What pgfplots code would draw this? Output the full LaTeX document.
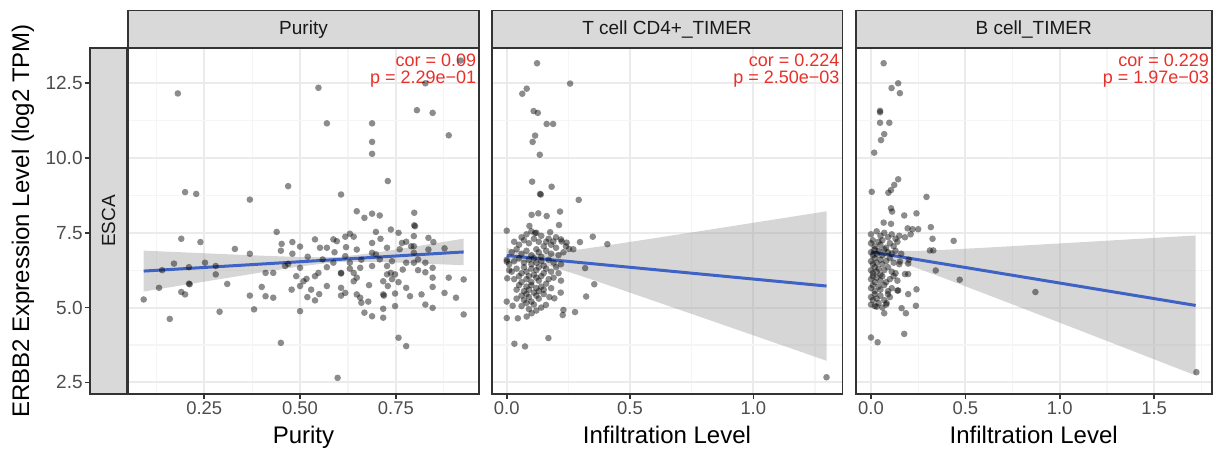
\documentclass[border=0pt]{standalone}
\usepackage{fontspec}
\setmainfont{Liberation Sans}
\usepackage{pgfplots}
\pgfplotsset{compat=1.18}
\definecolor{gridmaj}{HTML}{EBEBEB}
\definecolor{gridmin}{HTML}{F5F5F5}
\definecolor{bord}{HTML}{333333}
\definecolor{stripc}{HTML}{D9D9D9}
\definecolor{ticklab}{HTML}{4D4D4D}
\definecolor{corred}{HTML}{E8302A}
\definecolor{smoothc}{HTML}{3F63C4}
\definecolor{bandc}{HTML}{999999}

\pgfplotsset{
  panel/.style={
    scale only axis, height=173pt, anchor=south west,
    ymin=2.11, ymax=13.68,
    ytick={2.5,5,7.5,10,12.5}, yticklabels={},
    minor ytick={3.75,6.25,8.75,11.25},
    grid=both,
    major grid style={gridmaj, line width=1pt},
    minor grid style={gridmin, line width=0.6pt},
    axis line style={bord, line width=0.8pt},
    tick align=outside, xtick pos=bottom, ytick pos=left,
    major tick length=2.5pt, minor tick length=0pt,
    ytick style={draw=none},
    xtick style={bord, line width=0.8pt},
    xticklabel style={font=\fontsize{9.2}{10}\selectfont, text=ticklab, inner sep=1pt},
    xlabel style={font=\fontsize{12}{13}\selectfont, at={(rel axis cs:0.5,0)}, anchor=base, yshift=-25pt},
    clip=false,
  },
  pts/.style={only marks, mark=*, mark size=1.65pt, mark options={draw opacity=0, fill=black, fill opacity=0.45}},
  fit/.style={smoothc, line width=1.5pt, no marks},
  band/.style={draw=none, fill=bandc, fill opacity=0.4},
}
\newcommand{\strip}[1]{%
  \draw[bord, line width=0.8pt, fill=stripc] (rel axis cs:0,1) rectangle ([yshift=18.65pt]rel axis cs:1,1);
  \node[font=\fontsize{9.5}{10}\selectfont, text=black!90] at ([yshift=9.3pt]rel axis cs:0.5,1) {#1};
}
\newcommand{\cortext}[2]{%
  \node[anchor=north east, align=right, text=corred, font=\fontsize{9}{8.6}\selectfont, inner sep=0pt]
    at ([xshift=-1.2pt,yshift=-2.6pt]rel axis cs:1,1) {cor = #1\\p = #2};
}

\begin{document}
\begin{tikzpicture}

% ---- row strip with y axis ----
\begin{axis}[
  scale only axis, width=18.5pt, height=173pt, at={(45pt,29.5pt)}, anchor=south west,
  xmin=0, xmax=1, ymin=2.11, ymax=13.68, xtick=\empty,
  ytick={2.5,5,7.5,10,12.5}, yticklabels={2.5,5.0,7.5,10.0,12.5},
  tick align=outside, ytick pos=left, major tick length=2.5pt,
  ytick style={bord, line width=0.8pt},
  yticklabel style={font=\fontsize{9.5}{10}\selectfont, text=ticklab, inner sep=1pt},
  axis background/.style={fill=stripc},
  axis line style={bord, line width=0.8pt},
  ylabel={ERBB2 Expression Level (log2 TPM)},
  ylabel style={font=\fontsize{12}{13}\selectfont, at={(rel axis cs:0,0.5)}, anchor=center, yshift=33.5pt},
  clip=false,
]
\node[rotate=90, font=\fontsize{9.5}{10}\selectfont, text=black!90] at (rel axis cs:0.5,0.5) {ESCA};
\end{axis}

% ---- Purity ----
\begin{axis}[panel, width=175.5pt, at={(64pt,29.5pt)},
  xmin=0.051, xmax=0.967,
  xtick={0.25,0.5,0.75}, xticklabels={0.25,0.50,0.75},
  minor xtick={0.125,0.375,0.625,0.875},
  xlabel={Purity}]
\addplot[pts] coordinates {
(0.919,13.26) (0.181,12.16) (0.548,12.35) (0.827,12.5) (0.57,11.16) (0.805,11.6) (0.846,11.51)
(0.888,10.76) (0.688,11.16) (0.688,10.54) (0.688,10.14) (0.729,9.23) (0.469,9.06) (0.20,8.86)
(0.229,8.80) (0.369,8.61) (0.607,8.78) (0.648,8.22) (0.668,8.0) (0.688,8.14) (0.708,8.08)
(0.798,8.17) (0.798,7.75) (0.800,7.72) (0.439,7.53) (0.698,7.53) (0.737,7.61) (0.757,7.5) (0.19,7.3)
(0.24,7.19) (0.539,7.28) (0.57,7.0) (0.587,7.28) (0.596,7.22) (0.618,7.37) (0.63,7.47)
(0.64,7.37) (0.452,7.13) (0.48,7.19) (0.5,7.04) (0.33,6.96) (0.369,6.8) (0.48,6.8) (0.552,7.0)
(0.648,6.94) (0.688,7.16) (0.727,7.0) (0.766,7.16) (0.777,7.2) (0.835,7.33) (0.848,7.19)
(0.877,6.98) (0.797,7.39) (0.797,7.05) (0.171,6.47) (0.14,6.25) (0.21,6.35) (0.252,6.5)
(0.28,6.39) (0.28,6.11) (0.31,5.79) (0.21,5.8) (0.212,5.78) (0.132,5.66) (0.19,5.52) (0.20,5.44)
(0.092,5.27) (0.16,4.62) (0.29,4.86) (0.369,5.40) (0.38,4.94) (0.40,5.69) (0.41,5.38)
(0.41,6.16) (0.43,6.16) (0.43,5.33) (0.45,3.82) (0.461,6.39) (0.469,6.46) (0.478,5.6)
(0.49,6.05) (0.5,4.88) (0.5,5.72) (0.509,5.88) (0.517,5.96) (0.5,6.33) (0.519,5.35) (0.529,5.6)
(0.539,5.24) (0.539,6.05) (0.548,6.16) (0.559,6.61) (0.57,5.72) (0.57,6.35) (0.587,6.5)
(0.607,6.16) (0.607,6.14) (0.607,5.66) (0.607,5.4) (0.618,5.49) (0.598,2.65) (0.618,6.72) (0.63,6.5)
(0.64,6.16) (0.64,5.88) (0.648,6.0) (0.648,5.44) (0.657,6.33) (0.657,5.33) (0.66,5.16)
(0.668,4.83) (0.678,5.2) (0.688,4.71) (0.688,6.39) (0.688,6.83) (0.698,6.78) (0.708,6.61)
(0.717,5.88) (0.717,5.44) (0.719,5.40) (0.717,4.96) (0.717,4.66) (0.727,6.39) (0.727,6.11) (0.729,5.72)
(0.737,6.16) (0.748,6.11) (0.748,5.47) (0.748,5.05) (0.757,5.85) (0.757,3.99) (0.768,6.27)
(0.777,6.5) (0.777,5.66) (0.777,3.71) (0.787,5.38) (0.797,6.83) (0.797,6.5) (0.808,6.25)
(0.808,6.61) (0.817,5.44) (0.827,6.5) (0.827,6.18) (0.827,5.1) (0.835,6.94) (0.846,6.33)
(0.846,6.0) (0.846,5.69) (0.846,4.99) (0.877,5.49) (0.888,6.0) (0.907,5.33) (0.927,5.94)
(0.927,4.77) (0.62,7.02) (0.66,6.60) (0.59,6.85) (0.74,6.55) (0.76,6.95) (0.52,6.70)
(0.45,6.90) (0.71,7.30) (0.63,6.30) (0.68,5.75) (0.55,5.45) (0.74,5.95) (0.79,7.05)
};
\addplot[band] coordinates {
(0.092,6.904) (0.2,6.844) (0.3,6.788) (0.4,6.735) (0.5,6.689) (0.6,6.689) (0.7,6.842) (0.8,7.041) (0.927,7.305)
(0.927,6.415) (0.8,6.483) (0.7,6.530) (0.6,6.529) (0.5,6.377) (0.4,6.177) (0.3,5.970) (0.2,5.762) (0.092,5.536)
} -- cycle;
\addplot[fit] coordinates {(0.092,6.22) (0.927,6.86)};
\strip{Purity}
\cortext{0.09}{2.29e−01}
\end{axis}

% ---- T cell CD4+ ----
\begin{axis}[panel, width=175.3pt, at={(245.85pt,29.5pt)},
  xmin=-0.061, xmax=1.361,
  xtick={0,0.5,1}, xticklabels={0.0,0.5,1.0},
  minor xtick={0.25,0.75,1.25},
  xlabel={Infiltration Level}]
\addplot[pts] coordinates {
(0.123,13.17) (0.257,12.49) (0.081,12.32) (0.063,12.15) (0.109,11.57) (0.126,11.51)
(0.162,11.14) (0.188,11.14) (0.115,10.75) (0.105,10.54) (0.134,10.11) (0.103,9.21)
(0.182,9.04) (0.135,8.80) (0.138,8.78) (0.292,8.6) (0.216,8.21) (0.128,8.15) (0.101,8.10)
(0.162,8.06) (0.092,7.73) (0.212,7.76) (0.0,7.57) (0.115,7.49) (0.176,7.52) (0.349,7.37)
(0.408,7.12) (0.297,7.19) (0.253,6.96) (0.223,7.21) (0.243,7.17) (0.189,7.21)
(0.318,6.32) (0.355,5.78) (0.322,5.37) (0.277,4.85) (0.230,4.92) (0.227,4.75) (0.219,5.5)
(0.193,5.31) (0.173,5.35) (0.159,5.09) (0.0,5.2) (0.024,5.06) (0.0,4.65) (0.045,4.64)
(0.081,4.70) (0.101,4.81) (0.169,3.98) (0.031,3.79) (0.074,3.70) (0.0,6.54) (0.002,5.98)
(0.01,6.25) (1.297,2.67)
(0.08,7.45) (0.1,7.55) (0.12,7.5) (0.14,7.4) (0.06,7.35) (0.17,7.3) (0.2,7.35) (0.22,7.28)
(0.03,7.2) (0.05,7.1) (0.07,7.25) (0.09,7.15) (0.11,7.3) (0.13,7.2) (0.15,7.05) (0.16,7.2) (0.18,7.1) (0.2,7.0) (0.24,7.05) (0.27,6.95)
(0.02,6.85) (0.04,6.95) (0.06,6.8) (0.08,6.9) (0.1,6.75) (0.12,6.95) (0.13,6.85) (0.14,6.7) (0.16,6.9) (0.18,6.8) (0.21,6.75) (0.23,6.85)
(0.0,6.6) (0.01,6.45) (0.03,6.55) (0.05,6.65) (0.07,6.5) (0.09,6.6) (0.1,6.45) (0.11,6.65) (0.12,6.5) (0.14,6.55) (0.15,6.4) (0.17,6.6) (0.19,6.5) (0.22,6.45)
(0.02,6.2) (0.04,6.3) (0.06,6.15) (0.07,6.35) (0.08,6.2) (0.1,6.3) (0.11,6.1) (0.12,6.25) (0.13,6.35) (0.15,6.15) (0.16,6.3) (0.18,6.2) (0.2,6.35) (0.21,6.15)
(0.03,5.95) (0.05,6.05) (0.06,5.85) (0.08,5.95) (0.09,6.05) (0.1,5.85) (0.12,6.0) (0.13,5.9) (0.14,6.05) (0.16,5.8) (0.17,5.95) (0.19,6.0) (0.22,5.9)
(0.04,5.6) (0.05,5.75) (0.07,5.55) (0.08,5.7) (0.09,5.6) (0.1,5.75) (0.11,5.5) (0.12,5.65) (0.13,5.55) (0.14,5.7) (0.15,5.6) (0.18,5.65)
(0.04,5.3) (0.06,5.4) (0.07,5.25) (0.08,5.45) (0.09,5.35) (0.1,5.2) (0.12,5.4) (0.13,5.3) (0.15,5.45)
(0.06,5.05) (0.08,5.15) (0.09,4.95) (0.11,5.1) (0.12,4.9) (0.14,5.0)
};
\addplot[band] coordinates {
(0,6.997) (0.05,6.884) (0.1,6.811) (0.15,6.805) (0.2,6.840) (0.3,6.947) (0.4,7.069) (0.6,7.321) (0.8,7.577) (1.0,7.835) (1.2,8.094) (1.297,8.219)
(1.297,3.221) (1.2,3.500) (1.0,4.073) (0.8,4.645) (0.6,5.215) (0.4,5.783) (0.3,6.061) (0.2,6.326) (0.15,6.439) (0.1,6.511) (0.05,6.518) (0,6.483)
} -- cycle;
\addplot[fit] coordinates {(0,6.74) (1.297,5.72)};
\strip{T cell CD4+\_TIMER}
\cortext{0.224}{2.50e−03}
\end{axis}

% ---- B cell ----
\begin{axis}[panel, width=178pt, at={(427.85pt,29.5pt)},
  xmin=-0.081, xmax=1.805,
  xtick={0,0.5,1,1.5}, xticklabels={0.0,0.5,1.0,1.5},
  minor xtick={0.25,0.75,1.25,1.75},
  xlabel={Infiltration Level}]
\addplot[pts] coordinates {
(0.067,13.17) (0.144,12.5) (0.109,12.34) (0.153,12.17) (0.048,11.58) (0.048,11.53)
(0.048,11.18) (0.097,11.18) (0.07,10.8) (0.053,10.6) (0.017,10.18) (0.144,9.29) (0.123,9.1)
(0.106,8.93) (0.092,8.84) (0.004,8.87) (0.294,8.7) (0.106,8.32) (0.112,8.21) (0.176,8.08)
(0.241,8.15) (0.067,7.84) (0.106,7.8) (0.194,7.65) (0.25,7.62) (0.317,7.69) (0.22,7.62)
(0.326,7.3) (0.438,7.23) (0.312,6.91) (0.33,6.91) (0.343,6.24) (0.47,5.93) (0.241,5.61)
(0.197,5.45) (0.144,5.57) (0.238,5.06) (0.162,4.98) (0.185,4.81) (0.176,4.12) (0.0,4.0)
(0.035,3.84) (0.07,4.81) (0.18,6.12) (0.197,6.12) (0.153,6.54) (0.197,6.47) (0.083,5.15)
(0.03,5.03) (0.871,5.52) (1.724,2.84)
(0.0,7.45) (0.03,7.55) (0.05,7.4) (0.07,7.5) (0.09,7.35) (0.11,7.45) (0.13,7.3) (0.15,7.4) (0.18,7.35) (0.21,7.45)
(0.0,7.15) (0.01,7.25) (0.02,7.05) (0.04,7.2) (0.05,7.1) (0.06,7.25) (0.08,7.0) (0.1,7.15) (0.12,7.05) (0.14,7.2)
(0.0,6.85) (0.01,6.75) (0.02,6.95) (0.03,6.8) (0.04,6.9) (0.06,6.75) (0.07,6.95) (0.09,6.85) (0.11,6.8) (0.13,6.9) (0.16,6.8)
(0.0,6.55) (0.01,6.45) (0.02,6.65) (0.03,6.5) (0.05,6.6) (0.06,6.45) (0.08,6.55) (0.1,6.65) (0.12,6.5) (0.15,6.45) (0.2,6.6)
(0.0,6.25) (0.01,6.15) (0.02,6.35) (0.03,6.2) (0.04,6.3) (0.05,6.1) (0.07,6.25) (0.09,6.35) (0.11,6.2) (0.13,6.15)
(0.0,5.95) (0.01,6.05) (0.02,5.85) (0.03,6.0) (0.05,5.9) (0.06,6.05) (0.08,5.85) (0.1,5.95) (0.12,6.05) (0.14,5.9)
(0.0,5.65) (0.01,5.75) (0.02,5.55) (0.04,5.7) (0.05,5.6) (0.07,5.75) (0.09,5.55) (0.11,5.65) (0.14,5.57)
(0.0,5.35) (0.01,5.25) (0.02,5.45) (0.03,5.3) (0.05,5.4) (0.07,5.25) (0.09,5.45) (0.1,5.35)
(0.0,5.1) (0.02,5.05) (0.04,5.15) (0.06,5.0) (0.08,5.1)
};
\addplot[band] coordinates {
(0,7.04) (0.07,6.937) (0.15,6.892) (0.25,6.896) (0.4,6.935) (0.6,7.001) (0.8,7.072) (1.0,7.145) (1.2,7.218) (1.4,7.292) (1.6,7.367) (1.72,7.411)
(1.72,2.731) (1.6,3.025) (1.4,3.516) (1.2,4.006) (1.0,4.495) (0.8,4.984) (0.6,5.471) (0.4,5.953) (0.25,6.304) (0.15,6.516) (0.07,6.637) (0,6.68)
} -- cycle;
\addplot[fit] coordinates {(0,6.86) (1.72,5.071)};
\strip{B cell\_TIMER}
\cortext{0.229}{1.97e−03}
\end{axis}

\pgfresetboundingbox
\path[use as bounding box] (0,0) rectangle (607pt,226.5pt);
\end{tikzpicture}
\end{document}
